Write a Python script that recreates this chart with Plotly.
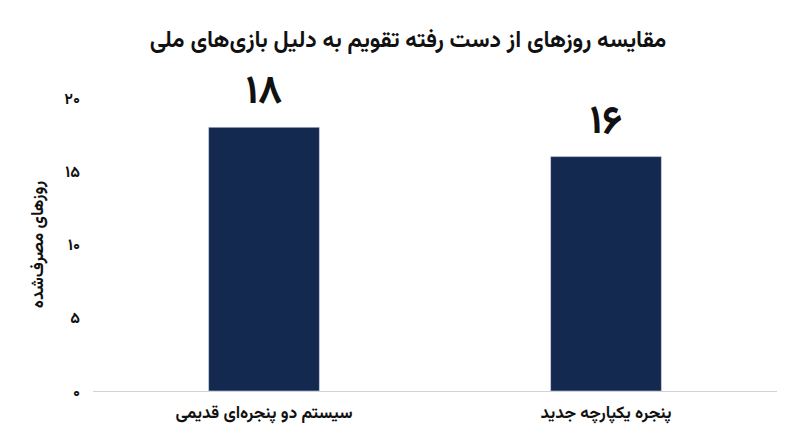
import plotly.graph_objects as go

categories = ["سیستم دو پنجره‌ای قدیمی", "پنجره یکپارچه جدید"]
days = [18, 16]
day_labels = ["۱۸", "۱۶"]
tick_values = [0, 5, 10, 15, 20]
tick_labels = ["۰", "۵", "۱۰", "۱۵", "۲۰"]

FONT = "Vazirmatn, Noto Sans Arabic, DejaVu Sans"

fig = go.Figure(go.Bar(
    x=categories,
    y=days,
    text=["<b>" + t + "</b>" for t in day_labels],
    textposition="outside",
    textfont=dict(size=40, color="#111111", family=FONT),
    marker_color="#13294f",
    cliponaxis=False,
))

fig.update_layout(
    width=800, height=447,
    paper_bgcolor="white", plot_bgcolor="white",
    margin=dict(l=85, r=31, t=90, b=64),
    bargap=0.676,
    showlegend=False,
    font=dict(family=FONT, color="#111111"),
    title=dict(
        text="<b>مقایسه روزهای از دست رفته تقویم به دلیل بازی‌های ملی</b>",
        x=0.5, xanchor="center", y=0.93, yanchor="middle",
        font=dict(size=23, color="#111111"),
    ),
)
fig.update_xaxes(
    automargin=False,
    showgrid=False, showline=True, linecolor="#d0d4da", linewidth=1,
    tickfont=dict(size=17, color="#111111"),
    ticktext=["<b>" + c + "</b>" for c in categories], tickvals=categories,
    ticks="", ticklabelstandoff=6,
)
fig.update_yaxes(
    automargin=False,
    range=[0, 20], showgrid=False, zeroline=False, showline=False,
    tickvals=tick_values, ticktext=["<b>" + t + "</b>" for t in tick_labels],
    tickfont=dict(size=16, color="#111111"),
    ticklabelstandoff=12,
    title=dict(text="<b>روزهای مصرف‌شده</b>", font=dict(size=17), standoff=16),
)

fig.write_html("out.html")
